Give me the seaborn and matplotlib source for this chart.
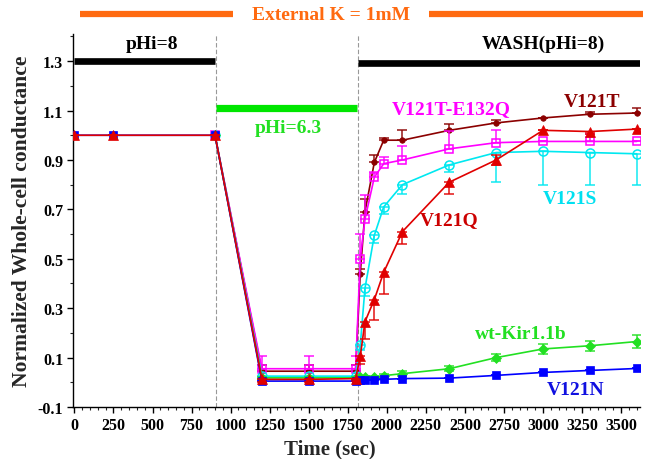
import numpy as np
import pandas as pd
import matplotlib
matplotlib.use("Agg")
import matplotlib.pyplot as plt
import seaborn as sns

# ---------------- data ----------------
t_pre = [0, 250, 900]
t_first = [900]
t_low = [1200, 1500, 1800]
t_wash = [1830, 1860, 1920, 1980, 2100, 2400, 2700, 3000, 3300, 3600]

v121t = [1.0, 0.045, 0.045, 0.045, 0.44, 0.69, 0.89, 0.98, 0.98, 1.02, 1.05, 1.07, 1.085, 1.09]
v121t_up = [0, 0.025, 0.025, 0.025, 0.02, 0.05, 0.03, 0.01, 0.04, 0.026, 0.01, 0, 0.01, 0.022]

e132q = [1.0, 0.055, 0.055, 0.055, 0.50, 0.66, 0.83, 0.885, 0.90, 0.945, 0.97, 0.975, 0.975, 0.975]
e132q_up = [0, 0.05, 0.05, 0.05, 0.10, 0.10, 0.02, 0.028, 0.055, 0.074, 0.05, 0, 0.03, 0]

v121s = [1.0, 0.025, 0.025, 0.025, 0.15, 0.38, 0.595, 0.71, 0.80, 0.88, 0.93, 0.935, 0.93, 0.925]
v121s_dn = [0, 0.01, 0.01, 0.01, 0.02, 0.03, 0.03, 0.03, 0.037, 0.03, 0.12, 0.135, 0.13, 0.126]

wt = [1.0, 0.018, 0.018, 0.018, 0.02, 0.02, 0.022, 0.027, 0.035, 0.055, 0.10, 0.135, 0.148, 0.165]
wt_err = [0, 0.005, 0.005, 0.005, 0.005, 0.005, 0.005, 0.005, 0.01, 0.01, 0.015, 0.02, 0.02, 0.025]

v121n = [1.0, 1.0, 1.0, 0.005, 0.005, 0.005, 0.008, 0.009, 0.01, 0.012, 0.015, 0.017, 0.028, 0.04, 0.048, 0.056]

v121q = [1.0, 1.0, 1.0, 0.012, 0.012, 0.015, 0.105, 0.245, 0.335, 0.445, 0.61, 0.81, 0.90, 1.02, 1.015, 1.025]
v121q_dn = [0, 0, 0, 0.01, 0.01, 0.01, 0.03, 0.07, 0.084, 0.088, 0.051, 0.047, 0.02, 0, 0.01, 0]
v121q_up = [0, 0, 0, 0, 0, 0, 0, 0, 0, 0, 0, 0, 0.02, 0, 0, 0]

# ---------------- style ----------------
sns.set_theme(style="ticks")
plt.rcParams["font.family"] = ["Liberation Serif", "DejaVu Serif"]
plt.rcParams["font.weight"] = "bold"

fig = plt.figure(figsize=(6.45, 4.6), dpi=100)
ax = fig.add_axes([0.113, 0.113, 0.879, 0.811])

t_short = t_first + t_low + t_wash
t_long = t_pre + t_low + t_wash

series = [
    # name, times, values, err_dn, err_up, color, marker, ms, open
    ("V121T", t_short, v121t, [0]*14, v121t_up, "#8B0000", "o", 4, False),
    ("V121T-E132Q", t_short, e132q, [0]*14, e132q_up, "#FF00FF", "s", 5.5, True),
    ("V121S", t_short, v121s, v121s_dn, [0]*14, "#00E8F0", "o", 6.5, True),
    ("wt-Kir1.1b", t_short, wt, wt_err, wt_err, "#22E022", "D", 5, False),
    ("V121N", t_long, v121n, [0]*16, [0]*16, "#0000FF", "s", 6, False),
    ("V121Q", t_long, v121q, v121q_dn, v121q_up, "#E00000", "^", 6.5, False),
]

for i, (name, tt, vv, dn, up, col, mk, ms, op) in enumerate(series):
    df = pd.DataFrame({"t": tt, "v": vv})
    ax.errorbar(tt, vv, yerr=[dn, up], fmt="none", ecolor=col, elinewidth=1.2,
                capsize=3.5, capthick=1.2, alpha=0.85, zorder=3 + i)
    kw = dict(marker=mk, markersize=ms, markeredgecolor=col, linewidth=1.2,
              markeredgewidth=1.1 if op else 0.5)
    kw["markerfacecolor"] = "none" if op else col
    sns.lineplot(data=df, x="t", y="v", ax=ax, color=col, estimator=None,
                 sort=False, legend=False, zorder=3 + i, **kw)

# vertical dashed lines
for xv in (905, 1815):
    ax.axvline(xv, color="#999999", linestyle=(0, (4, 2)), linewidth=0.8, zorder=1)

# condition bars
ax.plot([0, 900], [1.3, 1.3], color="black", linewidth=4.8, solid_capstyle="butt", zorder=2)
ax.plot([1818, 3620], [1.293, 1.293], color="black", linewidth=4.8, solid_capstyle="butt", zorder=2)
ax.plot([905, 1812], [1.112, 1.112], color="#00E600", linewidth=5.2, solid_capstyle="butt", zorder=2)

FS = 14
tb = dict(fontweight="bold", ha="center", va="center", family=["Liberation Serif"])
ax.text(495, 1.37, "pHi=8", fontsize=FS, color="black", **tb)
ax.text(3000, 1.37, "WASH(pHi=8)", fontsize=FS, color="black", **tb)
ax.text(1370, 1.032, "pHi=6.3", fontsize=FS, color="#22E022", **tb)
ax.text(2410, 1.11, "V121T-E132Q", fontsize=FS, color="#FF00FF", **tb)
ax.text(3316, 1.135, "V121T", fontsize=FS, color="#8B0000", **tb)
ax.text(3170, 0.745, "V121S", fontsize=FS, color="#00E0F0", **tb)
ax.text(2397, 0.66, "V121Q", fontsize=FS, color="#CC0000", **tb)
ax.text(2860, 0.197, "wt-Kir1.1b", fontsize=FS, color="#22E022", **tb)
ax.text(3210, -0.03, "V121N", fontsize=FS, color="#1010E0", **tb)

# External K header (outside axes)
ax.plot([38, 1015], [1.49, 1.49], color="#FF6A10", linewidth=4.5,
        solid_capstyle="butt", clip_on=False)
ax.plot([2270, 3640], [1.49, 1.49], color="#FF6A10", linewidth=4.5,
        solid_capstyle="butt", clip_on=False)
ax.text(1642, 1.49, "External K = 1mM", fontsize=FS, color="#FF6A10", **tb)

# axes
ax.set_xlim(-10, 3620)
ax.set_ylim(-0.1, 1.41)
ax.set_xticks(np.arange(0, 3501, 250))
ax.set_xticks(np.arange(0, 3601, 50), minor=True)
ax.set_yticks(np.arange(-0.1, 1.31, 0.2))
ax.set_yticks(np.arange(-0.1, 1.41, 0.1), minor=True)
ax.set_yticklabels(["-0.1", "0.1", "0.3", "0.5", "0.7", "0.9", "1.1", "1.3"])
ax.tick_params(axis="both", which="major", direction="out", length=4, width=1,
               labelsize=11.5, colors="black", pad=3)
ax.tick_params(axis="both", which="minor", direction="out", length=2, width=0.8)
for lab in ax.get_xticklabels() + ax.get_yticklabels():
    lab.set_fontweight("bold")
sns.despine(ax=ax)
for s in ("left", "bottom"):
    ax.spines[s].set_color("black")
    ax.spines[s].set_linewidth(1.0)

ax.set_xlabel("Time (sec)", fontsize=15, fontweight="bold")
ax.xaxis.set_label_coords(0.453, -0.085)
ax.set_ylabel("Normalized Whole-cell conductance", fontsize=15.5, fontweight="bold")
ax.yaxis.set_label_coords(-0.072, 0.5)

fig.savefig("out.png", dpi=100, facecolor="white")
